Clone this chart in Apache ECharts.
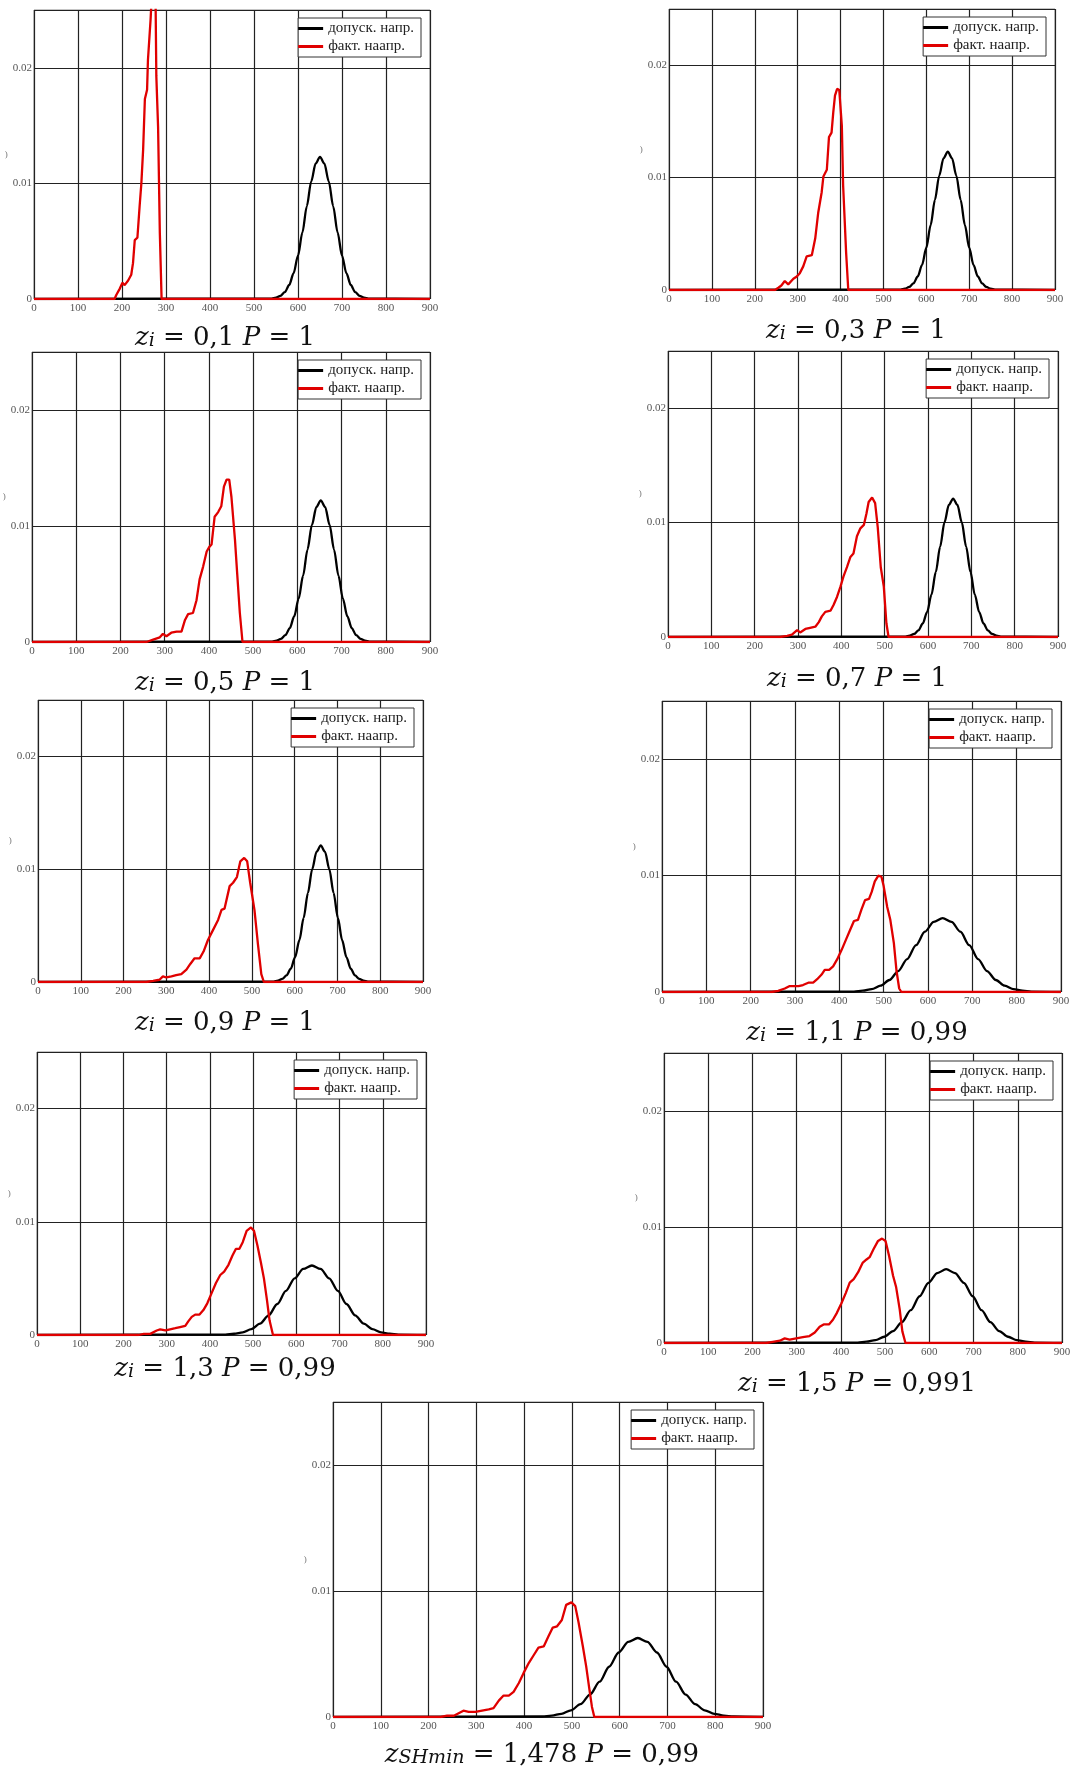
<!DOCTYPE html>
<html><head><meta charset="utf-8">
<script src="https://cdn.jsdelivr.net/npm/echarts@6/dist/echarts.min.js"></script>
<style>html,body{margin:0;padding:0;background:#fff}#c{width:1072px;height:1769px}</style>
</head><body><div id="c"></div>
<script>
// ---------- data ----------
const seriesNames = ['допуск. напр.', 'факт. наапр.'];
const xTickValues = [0, 100, 200, 300, 400, 500, 600, 700, 800, 900];
const yTickValues = [0, 0.01, 0.02];
const captionSub = ['i', 'i', 'i', 'i', 'i', 'i', 'i', 'i', 'SHmin'];
const captionZ = ['0,1', '0,3', '0,5', '0,7', '0,9', '1,1', '1,3', '1,5', '1,478'];
const captionP = ['1', '1', '1', '1', '1', '0,99', '0,99', '0,991', '0,99'];

const red1 = [[0,0],[183,0],[187,0.00035],[195,0.0009],[201,0.0014],[206,0.0012],[214,0.0016],[221,0.0021],[225,0.0031],[229,0.0051],[235,0.0053],[240,0.008],[244,0.01],[248,0.0129],[252,0.0173],[257,0.0181],[259,0.0207],[265,0.0242],[268,0.0265],[272,0.029],[276,0.027],[278,0.0193],[282,0.0149],[286,0.0057],[290,0],[900,0]];
const red2 = [[0,0],[247,0],[255,0.0002],[262,0.0004],[270,0.0008],[278,0.0005],[290,0.001],[298,0.0012],[305,0.0015],[313,0.0021],[321,0.003],[333,0.0031],[341,0.0046],[348,0.0069],[356,0.0087],[360,0.0101],[368,0.0107],[373,0.0136],[379,0.014],[383,0.0158],[387,0.0173],[392,0.0179],[397,0.0178],[403,0.0146],[406,0.0093],[413,0.0033],[418,0],[900,0]];
const red3 = [[0,0],[259,0],[274,0.0002],[289,0.0004],[296,0.0007],[304,0.0005],[315,0.0008],[327,0.0009],[338,0.0009],[346,0.0019],[353,0.0024],[364,0.0025],[372,0.0036],[379,0.0054],[387,0.0065],[395,0.0078],[401,0.0082],[406,0.0084],[413,0.0108],[421,0.0112],[428,0.0117],[434,0.0134],[440,0.014],[446,0.014],[451,0.0125],[459,0.0088],[464,0.0059],[470,0.0025],[476,0],[900,0]];
const red4 = [[0,0],[258,0],[275,0.0001],[286,0.0002],[298,0.0006],[305,0.0004],[317,0.0007],[328,0.0008],[340,0.0009],[348,0.0013],[355,0.0018],[363,0.0022],[375,0.0023],[382,0.0028],[390,0.0035],[398,0.0044],[405,0.0053],[413,0.0061],[421,0.007],[428,0.0073],[436,0.0088],[444,0.0095],[452,0.0098],[458,0.0108],[463,0.0118],[471,0.0122],[478,0.0117],[484,0.0096],[491,0.0061],[498,0.0044],[504,0.0012],[509,0],[900,0]];
const red5 = [[0,0],[253,0],[269,0.0001],[284,0.0002],[292,0.0005],[300,0.0004],[312,0.0005],[323,0.0006],[335,0.0007],[347,0.0011],[356,0.0016],[366,0.0021],[378,0.0021],[387,0.0027],[397,0.0037],[409,0.0046],[421,0.0055],[429,0.0064],[436,0.0065],[448,0.0085],[456,0.0088],[465,0.0093],[473,0.0107],[482,0.011],[489,0.0107],[496,0.0088],[506,0.0064],[514,0.0034],[522,0.0007],[528,0],[900,0]];
const red6 = [[0,0],[247,0],[262,0.0001],[277,0.0003],[287,0.0005],[296,0.0005],[308,0.0005],[318,0.0006],[330,0.0008],[341,0.0008],[350,0.0011],[360,0.0015],[367,0.0019],[377,0.0019],[386,0.0022],[395,0.0028],[405,0.0036],[415,0.0045],[424,0.0053],[433,0.0061],[442,0.0062],[450,0.0071],[458,0.0079],[467,0.008],[473,0.0086],[480,0.0095],[488,0.01],[495,0.0099],[500,0.0091],[508,0.0073],[515,0.0062],[523,0.0042],[529,0.0018],[535,0.0003],[540,0],[900,0]];
const red7 = [[0,0],[235,0],[247,0.0001],[262,0.0001],[277,0.0004],[285,0.0005],[297,0.0004],[308,0.0005],[320,0.0006],[331,0.0007],[343,0.0008],[350,0.0012],[358,0.0016],[366,0.0018],[376,0.0018],[385,0.0022],[394,0.0028],[404,0.0037],[414,0.0046],[424,0.0053],[433,0.0056],[443,0.0062],[452,0.007],[460,0.0076],[468,0.0076],[476,0.0082],[485,0.0092],[495,0.0095],[502,0.0092],[510,0.0079],[518,0.0064],[525,0.005],[532,0.0031],[538,0.0013],[546,0],[900,0]];
const red8 = [[0,0],[231,0],[246,0.0001],[262,0.0002],[273,0.0004],[284,0.0003],[299,0.0004],[314,0.0005],[329,0.0006],[341,0.0009],[352,0.0014],[361,0.0016],[373,0.0016],[382,0.002],[391,0.0026],[401,0.0034],[411,0.0043],[420,0.0052],[429,0.0055],[439,0.0061],[449,0.0069],[458,0.0072],[465,0.0074],[474,0.0081],[484,0.0088],[493,0.009],[501,0.0088],[509,0.0075],[518,0.0058],[525,0.0048],[533,0.0029],[539,0.001],[546,0],[900,0]];
const red9 = [[0,0],[225,0],[239,0.0001],[253,0.0001],[263,0.0003],[273,0.0005],[284,0.0004],[298,0.0004],[312,0.0005],[326,0.0006],[336,0.0007],[347,0.0013],[357,0.0017],[368,0.0017],[378,0.002],[389,0.0027],[399,0.0035],[410,0.0043],[420,0.0049],[430,0.0055],[441,0.0056],[451,0.0064],[460,0.0071],[469,0.0072],[479,0.0077],[488,0.0089],[499,0.0091],[507,0.0088],[514,0.0075],[523,0.0056],[530,0.004],[537,0.0021],[542,0.0008],[547,0],[900,0]];

const black1 = [[0,0],[540,0.00004],[550,0.00011],[560,0.00027],[570,0.00059],[580,0.00121],[590,0.00223],[600,0.00376],[610,0.00576],[620,0.00802],[630,0.01016],[640,0.01171],[650,0.0123],[660,0.01171],[670,0.01016],[680,0.00802],[690,0.00576],[700,0.00376],[710,0.00223],[720,0.00121],[730,0.00059],[740,0.00027],[750,0.00011],[760,0.00004],[900,0]];
const black2 = [[0,0],[540,0.00004],[550,0.00011],[560,0.00027],[570,0.00059],[580,0.00121],[590,0.00223],[600,0.00376],[610,0.00576],[620,0.00802],[630,0.01016],[640,0.01171],[650,0.0123],[660,0.01171],[670,0.01016],[680,0.00802],[690,0.00576],[700,0.00376],[710,0.00223],[720,0.00121],[730,0.00059],[740,0.00027],[750,0.00011],[760,0.00004],[900,0]];
const black3 = [[0,0],[543,0.00004],[553,0.00011],[563,0.00027],[573,0.00059],[583,0.0012],[593,0.00222],[603,0.00374],[613,0.00572],[623,0.00797],[633,0.01009],[643,0.01163],[653,0.0122],[663,0.01163],[673,0.01009],[683,0.00797],[693,0.00572],[703,0.00374],[713,0.00222],[723,0.0012],[733,0.00059],[743,0.00027],[753,0.00011],[763,0.00004],[900,0]];
const black4 = [[0,0],[548,0.00004],[558,0.00011],[568,0.00027],[578,0.00058],[588,0.00119],[598,0.0022],[608,0.0037],[618,0.00568],[628,0.0079],[638,0.01001],[648,0.01154],[658,0.0121],[668,0.01154],[678,0.01001],[688,0.0079],[698,0.00568],[708,0.0037],[718,0.0022],[728,0.00119],[738,0.00058],[748,0.00027],[758,0.00011],[768,0.00004],[900,0]];
const black5 = [[0,0],[551,0.00004],[561,0.00011],[571,0.00027],[581,0.00058],[591,0.00119],[601,0.0022],[611,0.0037],[621,0.00568],[631,0.0079],[641,0.01001],[651,0.01154],[661,0.0121],[671,0.01154],[681,0.01001],[691,0.0079],[701,0.00568],[711,0.0037],[721,0.0022],[731,0.00119],[741,0.00058],[751,0.00027],[761,0.00011],[771,0.00004],[900,0]];
const black6 = [[0,0],[433,0.00004],[453,0.00011],[473,0.00025],[493,0.00054],[513,0.00103],[533,0.0018],[553,0.00283],[573,0.00403],[593,0.00518],[613,0.00603],[633,0.00634],[653,0.00603],[673,0.00518],[693,0.00403],[713,0.00283],[733,0.0018],[753,0.00103],[773,0.00054],[793,0.00025],[813,0.00011],[833,0.00004],[900,0]];
const black7 = [[0,0],[436,0.00004],[456,0.00011],[476,0.00024],[496,0.00052],[516,0.001],[536,0.00174],[556,0.00274],[576,0.0039],[596,0.00501],[616,0.00584],[636,0.00614],[656,0.00584],[676,0.00501],[696,0.0039],[716,0.00274],[736,0.00174],[756,0.001],[776,0.00052],[796,0.00024],[816,0.00011],[836,0.00004],[900,0]];
const black8 = [[0,0],[438,0.00004],[458,0.00011],[478,0.00025],[498,0.00054],[518,0.00103],[538,0.0018],[558,0.00283],[578,0.00403],[598,0.00518],[618,0.00603],[638,0.00636],[658,0.00603],[678,0.00518],[698,0.00403],[718,0.00283],[738,0.0018],[758,0.00103],[778,0.00054],[798,0.00025],[818,0.00011],[838,0.00004],[900,0]];
const black9 = [[0,0],[438,0.00004],[458,0.00011],[478,0.00025],[498,0.00053],[518,0.00102],[538,0.00178],[558,0.0028],[578,0.00399],[598,0.00512],[618,0.00596],[638,0.00627],[658,0.00596],[678,0.00512],[698,0.00399],[718,0.0028],[738,0.00178],[758,0.00102],[778,0.00053],[798,0.00025],[818,0.00011],[838,0.00004],[900,0]];

const reds = [red1, red2, red3, red4, red5, red6, red7, red8, red9];
const blacks = [black1, black2, black3, black4, black5, black6, black7, black8, black9];

// ---------- layout ----------
const W = 1072;
const panels = [
  {L:34,  R:430,  T:10,   B:299,  cx:225, base:342},
  {L:669, R:1055, T:9,    B:290,  cx:856, base:335},
  {L:32,  R:430,  T:352,  B:642,  cx:225, base:687},
  {L:668, R:1058, T:351,  B:637,  cx:857, base:683},
  {L:38,  R:423,  T:700,  B:982,  cx:225, base:1027},
  {L:662, R:1061, T:701,  B:992,  cx:857, base:1037},
  {L:37,  R:426,  T:1052, B:1335, cx:225, base:1373},
  {L:664, R:1062, T:1053, B:1343, cx:857, base:1388},
  {L:333, R:763,  T:1402, B:1717, cx:542, base:1759}
];

const FF = 'Liberation Serif';
const CF = 'DejaVu Serif';
const grids = [], xAxes = [], yAxes = [], series = [], legends = [], graphics = [];
panels.forEach((p, i) => {
  grids.push({left: p.L, top: p.T, width: p.R - p.L, height: p.B - p.T, show: true,
    borderColor: '#8a8a8a', borderWidth: 1, backgroundColor: 'transparent', containLabel: false, outerBoundsMode: 'none'});
  xAxes.push({gridIndex: i, type: 'value', min: xTickValues[0], max: xTickValues[xTickValues.length - 1], interval: 100,
    axisLine: {show: false}, axisTick: {show: false},
    axisLabel: {fontFamily: FF, fontSize: 11, color: '#555', margin: 4},
    splitLine: {show: true, lineStyle: {color: '#222', width: 1.2}}});
  yAxes.push({gridIndex: i, type: 'value', min: yTickValues[0], max: 0.025, interval: 0.01,
    name: ')', nameLocation: 'middle', nameGap: 21, nameRotate: 0,
    nameTextStyle: {fontFamily: FF, fontSize: 9, color: '#777'},
    axisLine: {show: false}, axisTick: {show: false},
    axisLabel: {fontFamily: FF, fontSize: 11, color: '#555', margin: 2, showMaxLabel: false},
    splitLine: {show: true, lineStyle: {color: '#222', width: 1.2}}});
  series.push({name: seriesNames[0], type: 'line', xAxisIndex: i, yAxisIndex: i, data: blacks[i],
    showSymbol: false, smooth: 0.3, smoothMonotone: 'x', clip: true,
    lineStyle: {color: '#000', width: 2.3}, itemStyle: {color: '#000'}, z: 3});
  series.push({name: seriesNames[1], type: 'line', xAxisIndex: i, yAxisIndex: i, data: reds[i],
    showSymbol: false, clip: true,
    lineStyle: {color: '#e00000', width: 2.3}, itemStyle: {color: '#e00000'}, z: 4});
  legends.push({data: seriesNames, orient: 'vertical', right: W - p.R + 9, top: p.T + 8,
    icon: 'rect', itemWidth: 25, itemHeight: 3, itemGap: 3, padding: [3, 7, 3, 0],
    backgroundColor: '#fff', borderColor: '#333', borderWidth: 1, selectedMode: false,
    textStyle: {fontFamily: FF, fontSize: 15, color: '#222', lineHeight: 15}, z: 5});
  graphics.push({type: 'text', x: p.cx, y: p.base + 9, z: 10,
    style: {
      text: '{v|z}{s|' + captionSub[i] + '}{n| = ' + captionZ[i] + ' }{v|P}{n| = ' + captionP[i] + '}',
      align: 'center', verticalAlign: 'bottom', fill: '#111',
      rich: {
        v: {fontFamily: CF, fontStyle: 'italic', fontSize: 26, lineHeight: 33, verticalAlign: 'bottom', fill: '#111'},
        n: {fontFamily: CF, fontSize: 26, lineHeight: 33, verticalAlign: 'bottom', fill: '#111'},
        s: {fontFamily: CF, fontStyle: 'italic', fontSize: 19, lineHeight: 12, verticalAlign: 'bottom', fill: '#111'}
      }
    }});
});

const chart = echarts.init(document.getElementById('c'), null, {renderer: 'canvas'});
chart.setOption({
  animation: false,
  backgroundColor: '#fff',
  grid: grids, xAxis: xAxes, yAxis: yAxes, series: series, legend: legends,
  graphic: graphics
});
</script>
</body></html>
